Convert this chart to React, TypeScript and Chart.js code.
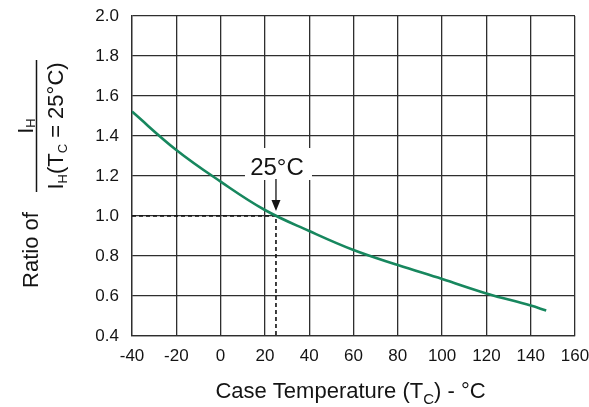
import React, { useEffect, useRef } from "react";
import { Chart, registerables } from "chart.js";

Chart.register(...registerables);

const temperatures = [-40, -20, 0, 20, 40, 60, 80, 100, 120, 140, 147];
const ratios = [1.522, 1.33, 1.172, 1.03, 0.925, 0.83, 0.755, 0.685, 0.613, 0.552, 0.527];
const refX = [-40, 25, 25];
const refY = [1.0, 1.0, 0.4];
const xTicks = [-40, -20, 0, 20, 40, 60, 80, 100, 120, 140, 160];
const yTicks = [0.4, 0.6, 0.8, 1.0, 1.2, 1.4, 1.6, 1.8, 2.0];
const markerLabel = "25°C";
const markerTemp = 25;
const markerRatio = 1.0;

const FONT = "'Liberation Sans', Arial, Helvetica, sans-serif";
const INK = "#141414";

type Part = { t: string; sub?: boolean };

function drawRich(ctx: CanvasRenderingContext2D, parts: Part[], x: number, y: number, size: number, subSize: number, subDrop: number) {
  const widths = parts.map((p) => {
    ctx.font = `${p.sub ? subSize : size}px ${FONT}`;
    return ctx.measureText(p.t).width;
  });
  const total = widths.reduce((a, b) => a + b, 0);
  let cx = x - total / 2;
  ctx.textAlign = "left";
  ctx.textBaseline = "alphabetic";
  parts.forEach((p, i) => {
    ctx.font = `${p.sub ? subSize : size}px ${FONT}`;
    ctx.fillText(p.t, cx, y + (p.sub ? subDrop : 0));
    cx += widths[i];
  });
}

const zeroPad = (s: any) => {
  s.paddingTop = 0;
  s.paddingBottom = 0;
  s.paddingLeft = 0;
  s.paddingRight = 0;
};

const annotations = {
  id: "annotations",
  afterDraw(chart: any) {
    const ctx: CanvasRenderingContext2D = chart.ctx;
    const xs = chart.scales.x;
    const ys = chart.scales.y;
    const area = chart.chartArea;
    ctx.save();
    ctx.fillStyle = INK;
    ctx.strokeStyle = INK;

    // marker label with white backing
    const px = xs.getPixelForValue(markerTemp);
    const py = ys.getPixelForValue(markerRatio);
    ctx.fillStyle = "#ffffff";
    ctx.fillRect(px - 31, py - 68, 67, 32);
    ctx.fillStyle = INK;
    ctx.font = `24px ${FONT}`;
    ctx.textAlign = "center";
    ctx.textBaseline = "alphabetic";
    ctx.fillText(markerLabel, px + 1, py - 41);
    // arrow
    ctx.lineWidth = 1.3;
    ctx.beginPath();
    ctx.moveTo(px, py - 37);
    ctx.lineTo(px, py - 14);
    ctx.stroke();
    ctx.beginPath();
    ctx.moveTo(px - 4.5, py - 16);
    ctx.lineTo(px + 4.5, py - 16);
    ctx.lineTo(px, py - 5);
    ctx.closePath();
    ctx.fill();

    // x title
    drawRich(
      ctx,
      [{ t: "Case Temperature (T" }, { t: "C", sub: true }, { t: ") - °C" }],
      (area.left + area.right) / 2 - 3,
      398,
      22,
      15,
      6
    );

    // y title (rotated)
    ctx.save();
    ctx.translate(38, 250);
    ctx.rotate(-Math.PI / 2);
    ctx.font = `22px ${FONT}`;
    ctx.textAlign = "center";
    ctx.fillText("Ratio of", 0, 0);
    ctx.restore();

    ctx.save();
    ctx.translate(33, 126);
    ctx.rotate(-Math.PI / 2);
    drawRich(ctx, [{ t: "I" }, { t: "H", sub: true }], 0, 0, 22, 13, 2);
    ctx.restore();

    ctx.lineWidth = 1.5;
    ctx.beginPath();
    ctx.moveTo(36.5, 60);
    ctx.lineTo(36.5, 192);
    ctx.stroke();

    ctx.save();
    ctx.translate(63, 126);
    ctx.rotate(-Math.PI / 2);
    drawRich(
      ctx,
      [{ t: "I" }, { t: "H", sub: true }, { t: "(T" }, { t: "C", sub: true }, { t: " = 25°C)" }],
      0,
      0,
      22,
      13,
      4
    );
    ctx.restore();

    ctx.restore();
  },
};

export default function App() {
  const ref = useRef<HTMLCanvasElement | null>(null);
  useEffect(() => {
    if (!ref.current) return;
    const chart = new Chart(ref.current, {
      type: "line",
      data: {
        datasets: [
          {
            data: temperatures.map((t, i) => ({ x: t, y: ratios[i] })),
            borderColor: "#17875e",
            borderWidth: 2.6,
            pointRadius: 0,
            tension: 0.4,
            fill: false,
          },
          {
            data: refX.map((t, i) => ({ x: t, y: refY[i] })),
            borderColor: "#111111",
            borderWidth: 1.6,
            borderDash: [4, 3],
            pointRadius: 0,
            tension: 0,
            fill: false,
          },
        ],
      },
      options: {
        responsive: false,
        animation: false,
        events: [],
        layout: { padding: { top: 16, right: 14, left: 0, bottom: 0 } },
        plugins: { legend: { display: false }, tooltip: { enabled: false }, title: { display: false } },
        scales: {
          x: {
            type: "linear",
            min: -40,
            max: 160,
            afterBuildTicks: (s: any) => {
              s.ticks = xTicks.map((v) => ({ value: v }));
            },
            afterFit: (s: any) => {
              s.height = 71;
              zeroPad(s);
            },
            grid: { color: "#2e2e2e", lineWidth: 1.3, drawTicks: false },
            border: { color: "#2e2e2e", width: 1.3 },
            ticks: {
              color: INK,
              padding: 10,
              font: { family: FONT, size: 17 },
              maxRotation: 0,
              callback: (v: any) => String(v),
            },
          },
          y: {
            type: "linear",
            min: 0.4,
            max: 2.0,
            afterBuildTicks: (s: any) => {
              s.ticks = yTicks.map((v) => ({ value: v }));
            },
            afterFit: (s: any) => {
              s.width = 132;
              zeroPad(s);
            },
            grid: { color: "#2e2e2e", lineWidth: 1.3, drawTicks: false },
            border: { color: "#2e2e2e", width: 1.3 },
            ticks: {
              color: INK,
              padding: 13,
              font: { family: FONT, size: 17 },
              callback: (v: any) => Number(v).toFixed(1),
            },
          },
        },
      },
      plugins: [annotations],
    });
    return () => chart.destroy();
  }, []);
  return (
    <div style={{ position: "fixed", left: 0, top: 0, width: 589, height: 407, background: "#fff" }}>
      <canvas ref={ref} width={589} height={407} style={{ width: 589, height: 407, display: "block" }} />
    </div>
  );
}
